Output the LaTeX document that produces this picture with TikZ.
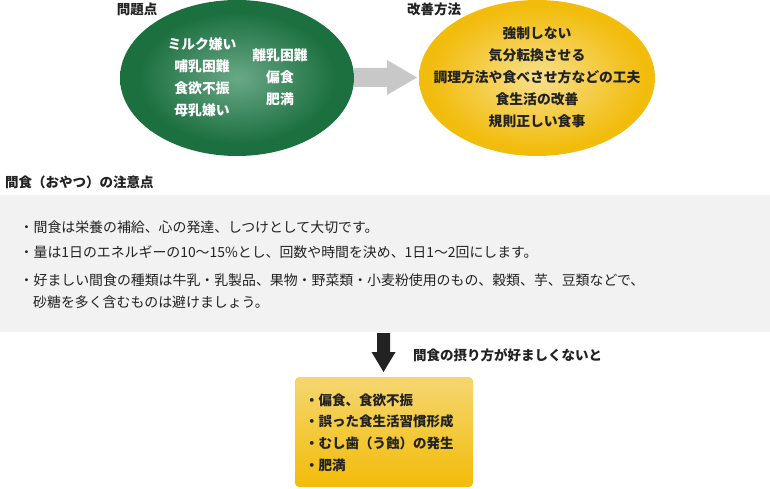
\documentclass[tikz,border=0pt]{standalone}
\usepackage{fontspec}
\setmainfont{Noto Sans CJK JP}
\usetikzlibrary{shapes.geometric}
\definecolor{gin}{HTML}{6AA888}
\definecolor{gout}{HTML}{1C7040}
\definecolor{yin}{HTML}{F7E08C}
\definecolor{yout}{HTML}{F2BC0C}
\definecolor{boxtop}{HTML}{F5D670}
\definecolor{boxbot}{HTML}{F2BC08}
\definecolor{panel}{HTML}{F2F2F2}
\definecolor{garrow}{HTML}{C8C8C8}
\definecolor{darrow}{HTML}{222222}
\definecolor{txt}{HTML}{222222}
\pgfdeclareradialshading{greenball}{\pgfpoint{0bp}{0bp}}{color(0bp)=(gin); color(21bp)=(gout); color(50bp)=(gout)}
\pgfdeclareradialshading{yellowball}{\pgfpoint{0bp}{0bp}}{color(0bp)=(yin); color(23bp)=(yout); color(50bp)=(yout)}
\tikzset{
  hd/.style={font=\bfseries\fontsize{13.5}{22}\selectfont, text=txt, inner sep=0pt},
  wt/.style={font=\bfseries\fontsize{13.8}{22}\selectfont, text=white, align=center, inner sep=0pt},
  bk/.style={font=\bfseries\fontsize{13.8}{22}\selectfont, text=txt, align=center, inner sep=0pt},
  body/.style={font=\fontsize{13.9}{22}\selectfont, text=txt, anchor=west, inner sep=0pt},
  item/.style={font=\bfseries\fontsize{13.5}{22}\selectfont, text=txt, anchor=west, inner sep=0pt},
}
\begin{document}
\begin{tikzpicture}[x=1pt,y=-1pt]
\useasboundingbox (0,0) rectangle (770,489);
% ellipses
\node[ellipse, minimum width=234, minimum height=156, shading=greenball, inner sep=0pt] (prob) at (237,78) {};
\node[ellipse, minimum width=236, minimum height=156, shading=yellowball, inner sep=0pt] (impr) at (537,78) {};
% gray arrow
\fill[garrow] (354,68) -- (387,68) -- (387,60) -- (417,77.5) -- (387,95) -- (387,87) -- (354,87) -- cycle;
% titles
\node[hd] (t1) at (137,9) {問題点};
\node[hd] (t2) at (434,9) {改善方法};
% green texts
\node[wt] (pl) at (202,77) {ミルク嫌い\\哺乳困難\\食欲不振\\母乳嫌い};
\node[wt] (pr) at (280,77) {離乳困難\\偏食\\肥満};
% yellow texts
\node[bk] (im) at (537,77) {強制しない\\気分転換させる\\調理方法や食べさせ方などの工夫\\食生活の改善\\規則正しい食事};
% section
\node[hd, anchor=west] (sec) at (5,182) {間食（おやつ）の注意点};
\fill[panel] (0,195) rectangle (770,332);
\node[body] (b1) at (19.5,227) {・間食は栄養の補給、心の発達、しつけとして大切です。};
\node[body] (b2) at (19.5,252) {・量は1日のエネルギーの10～15\%とし、回数や時間を決め、1日1～2回にします。};
\node[body] (b3) at (19.5,280) {・好ましい間食の種類は牛乳・乳製品、果物・野菜類・小麦粉使用のもの、穀類、芋、豆類などで、};
\node[body] (b4) at (33,302) {砂糖を多く含むものは避けましょう。};
% down arrow
\fill[darrow] (377,333) -- (390,333) -- (390,352) -- (395.5,352) -- (383.5,372) -- (371.5,352) -- (377,352) -- cycle;
\node[hd, anchor=west] (lab) at (413,355) {間食の摂り方が好ましくないと};
% result box
\shade[top color=boxtop, bottom color=boxbot, rounded corners=4pt] (295,377) rectangle (473,487);
\node[item] (r1) at (305,400) {・偏食、食欲不振};
\node[item] (r2) at (305,421.5) {・誤った食生活習慣形成};
\node[item] (r3) at (305,443) {・むし歯（う蝕）の発生};
\node[item] (r4) at (305,465) {・肥満};
\end{tikzpicture}
\end{document}
